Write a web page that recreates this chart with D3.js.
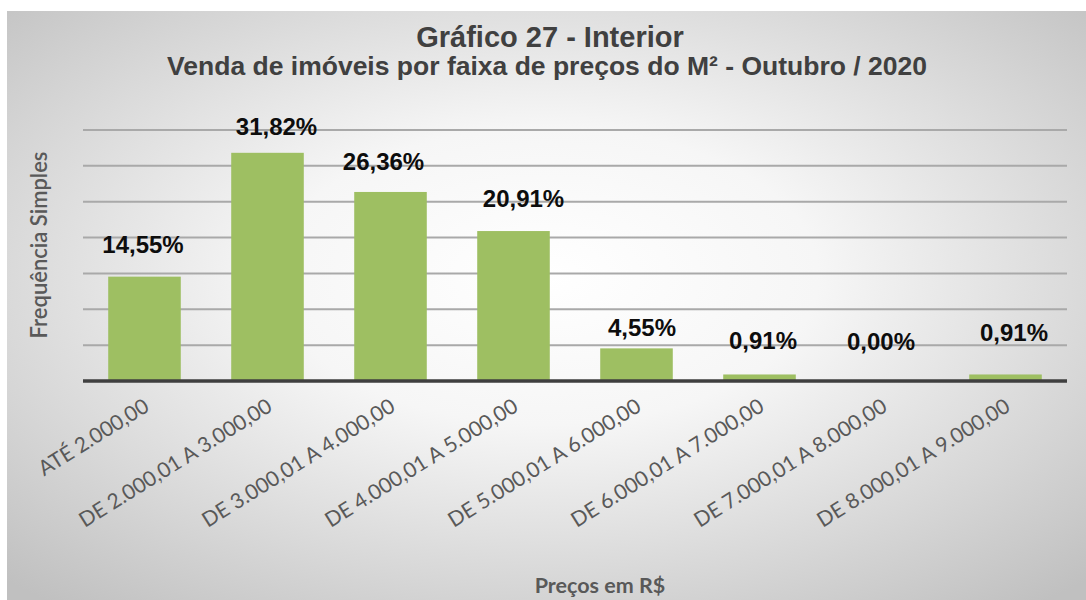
<!DOCTYPE html>
<html>
<head>
<meta charset="utf-8">
<script src="https://cdn.jsdelivr.net/npm/d3@7"></script>
<style>
  html, body { margin: 0; padding: 0; background: #ffffff; }
  svg { display: block; }
</style>
</head>
<body>
<svg id="chart" width="1086" height="600"></svg>
<script>
// ---- data ----
const categories = [
  "ATÉ 2.000,00",
  "DE 2.000,01 A 3.000,00",
  "DE 3.000,01 A 4.000,00",
  "DE 4.000,01 A 5.000,00",
  "DE 5.000,01 A 6.000,00",
  "DE 6.000,01 A 7.000,00",
  "DE 7.000,01 A 8.000,00",
  "DE 8.000,01 A 9.000,00"
];
const values = [14.55, 31.82, 26.36, 20.91, 4.55, 0.91, 0.00, 0.91];
const valueLabels = ["14,55%", "31,82%", "26,36%", "20,91%", "4,55%", "0,91%", "0,00%", "0,91%"];
const yTicks = [0, 5, 10, 15, 20, 25, 30, 35];
const titleText = "Gráfico 27 - Interior";
const subtitleText = "Venda de imóveis por faixa de preços do M² - Outubro / 2020";
const yAxisTitle = "Frequência Simples";
const xAxisTitle = "Preços em R$";
// manual label nudges (as placed in the original), in px
const labelDx = [-1.5, 9, -7, 10, 5.5, 3.5, -1.5, 8.5];
const labelLift = [24, 18, 22, 24, 12, 25, 31, 33.5];

// ---- layout ----
const W = 1086, H = 600;
const svg = d3.select("#chart");
const defs = svg.append("defs");
const grad = defs.append("radialGradient")
  .attr("id", "bg").attr("cx", "50%").attr("cy", "45%").attr("r", "72%");
grad.append("stop").attr("offset", "0%").attr("stop-color", "#ffffff");
grad.append("stop").attr("offset", "35%").attr("stop-color", "#f6f6f6");
grad.append("stop").attr("offset", "100%").attr("stop-color", "#c0c0c0");

svg.append("rect").attr("x", 7).attr("y", 11).attr("width", W - 7).attr("height", H - 11)
  .attr("fill", "url(#bg)");

const plot = { left: 83, right: 1067, top: 130, bottom: 381 };

const x = d3.scaleBand().domain(categories)
  .range([plot.left, plot.right]).paddingInner(0.41).paddingOuter(0.205);
const y = d3.scaleLinear().domain([0, 35]).range([plot.bottom, plot.top]);

// gridlines
svg.append("g").selectAll("line").data(yTicks.filter(d => d > 0)).join("line")
  .attr("x1", plot.left).attr("x2", plot.right)
  .attr("y1", d => y(d)).attr("y2", d => y(d))
  .attr("stroke", "#a9a9a9").attr("stroke-width", 2);

// bars
svg.append("g").selectAll("rect").data(values).join("rect")
  .attr("x", (d, i) => x(categories[i]))
  .attr("width", x.bandwidth())
  .attr("y", d => y(d))
  .attr("height", d => y(0) - y(d))
  .attr("fill", "#9ebf62");

// x axis line
svg.append("line")
  .attr("x1", plot.left).attr("x2", plot.right)
  .attr("y1", y(0)).attr("y2", y(0))
  .attr("stroke", "#3f3f3f").attr("stroke-width", 3.5);

// value labels
svg.append("g").selectAll("text").data(values).join("text")
  .attr("x", (d, i) => x(categories[i]) + x.bandwidth() / 2 + labelDx[i])
  .attr("y", (d, i) => y(d) - labelLift[i])
  .attr("text-anchor", "middle")
  .attr("font-family", "'Liberation Sans', Arial, sans-serif")
  .attr("font-weight", "bold")
  .attr("font-size", 24)
  .attr("fill", "#0d0d0d")
  .text((d, i) => valueLabels[i]);

// x tick labels (rotated)
svg.append("g").selectAll("text").data(categories).join("text")
  .attr("transform", d => `translate(${x(d) + x.bandwidth() / 2 + 6},${y(0) + 29}) rotate(-32)`)
  .attr("text-anchor", "end")
  .attr("font-family", "Lato, 'Open Sans', sans-serif")
  .attr("font-size", 21)
  .attr("fill", "#595959")
  .text(d => d);

// titles
svg.append("text").attr("x", 550).attr("y", 47)
  .attr("text-anchor", "middle")
  .attr("font-family", "'Liberation Sans', Arial, sans-serif")
  .attr("font-weight", "bold").attr("font-size", 29)
  .attr("fill", "#404040").text(titleText);
svg.append("text").attr("x", 547).attr("y", 75)
  .attr("text-anchor", "middle")
  .attr("font-family", "'Liberation Sans', Arial, sans-serif")
  .attr("font-weight", "bold").attr("font-size", 26.5)
  .attr("fill", "#404040").text(subtitleText);

// axis titles
svg.append("text")
  .attr("transform", "translate(47,245) rotate(-90)")
  .attr("text-anchor", "middle")
  .attr("font-family", "Lato, 'Open Sans', sans-serif")
  .attr("font-weight", "600").attr("font-size", 22)
  .attr("fill", "#595959").text(yAxisTitle);
svg.append("text").attr("x", 600).attr("y", 593)
  .attr("text-anchor", "middle")
  .attr("font-family", "Lato, 'Open Sans', sans-serif")
  .attr("font-weight", "bold").attr("font-size", 21.5)
  .attr("fill", "#595959").text(xAxisTitle);
</script>
</body>
</html>
